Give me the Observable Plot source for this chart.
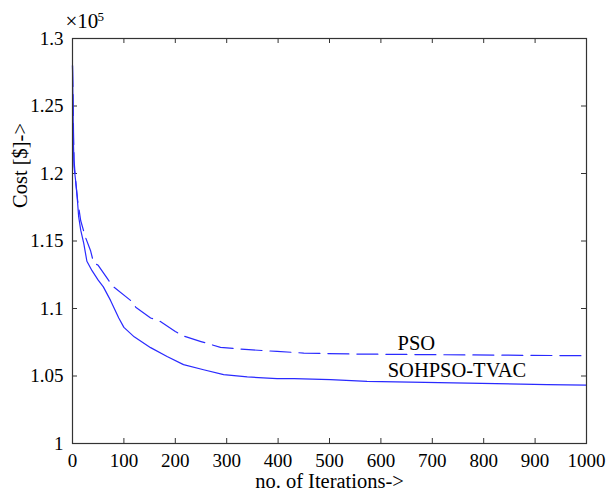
<!DOCTYPE html>
<html>
<head>
<meta charset="utf-8">
<script src="https://cdn.jsdelivr.net/npm/d3@7"></script>
<script src="https://cdn.jsdelivr.net/npm/@observablehq/plot@0.6"></script>
<style>
  html, body { margin: 0; padding: 0; background: #fff; }
  svg { display: block; }
  svg, svg text { font-family: "Liberation Serif", "Times New Roman", serif !important; }
</style>
</head>
<body>
<div id="chart"></div>
<script>
// Iteration points and cost values (x 1e5)
const sohIter = [0, 1, 2, 3, 6, 9, 12, 16, 22, 28, 38, 50, 60, 74, 90, 100, 120, 152, 184, 216, 255, 294, 340, 398, 431, 502, 573, 741, 923, 1000];
const sohCost = [1.28, 1.25, 1.22, 1.205, 1.195, 1.183, 1.168, 1.158, 1.148, 1.135, 1.128, 1.121, 1.116, 1.106, 1.093, 1.086, 1.079, 1.071, 1.0645, 1.0584, 1.0546, 1.051, 1.0493, 1.048, 1.048, 1.0473, 1.046, 1.0449, 1.0436, 1.0432];

const psoIter = [0, 1, 2, 3, 6, 10, 16, 25, 35, 41, 50, 70, 80, 113, 123, 152, 171, 200, 213, 250, 288, 343, 398, 450, 541, 700, 1000];
const psoCost = [1.28, 1.26, 1.23, 1.21, 1.195, 1.18, 1.165, 1.153, 1.143, 1.134, 1.132, 1.121, 1.116, 1.106, 1.101, 1.093, 1.0904, 1.083, 1.08, 1.0755, 1.0712, 1.0695, 1.0682, 1.067, 1.0663, 1.0658, 1.065];

const xTicks = [0, 100, 200, 300, 400, 500, 600, 700, 800, 900, 1000];
const yTicks = [1, 1.05, 1.1, 1.15, 1.2, 1.25, 1.3];

const seriesLabels = ["PSO", "SOHPSO-TVAC"];
const labelIter = [669, 748];
const labelCost = [1.0696, 1.0489];

const soh = sohIter.map((x, i) => ({x, y: sohCost[i]}));
const pso = psoIter.map((x, i) => ({x, y: psoCost[i]}));
const labels = seriesLabels.map((t, i) => ({t, x: labelIter[i], y: labelCost[i]}));

const W = 608, H = 494;
const mL = 72, mR = 22, mT = 38, mB = 51;
const innerW = W - mL - mR, innerH = H - mT - mB;
const tickLen = 5;
const blue = "#2a2aff";
const font = "Liberation Serif";

const chart = Plot.plot({
  width: W,
  height: H,
  marginLeft: mL,
  marginRight: mR,
  marginTop: mT,
  marginBottom: mB,
  style: {fontFamily: font, background: "#fff", color: "#000"},
  x: {domain: [0, 1000]},
  y: {domain: [1, 1.3]},
  marks: [
    Plot.axisX(xTicks, {tickSize: 0, tickPadding: 10, fontSize: 19, label: null, fill: "#000",
      tickFormat: d => String(d)}),
    Plot.axisY(yTicks, {tickSize: 0, tickPadding: 9, fontSize: 19, label: null, fill: "#000",
      tickFormat: d => String(+d.toFixed(2))}),
    // inward ticks on all four sides
    Plot.ruleX(xTicks, {x: d => d, insetTop: innerH - tickLen, stroke: "#333"}),
    Plot.ruleX(xTicks, {x: d => d, insetBottom: innerH - tickLen, stroke: "#333"}),
    Plot.ruleY(yTicks, {y: d => d, insetRight: innerW - tickLen, stroke: "#333"}),
    Plot.ruleY(yTicks, {y: d => d, insetLeft: innerW - tickLen, stroke: "#333"}),
    Plot.line(pso, {x: "x", y: "y", stroke: blue, strokeWidth: 1.2, strokeDasharray: "21,8"}),
    Plot.line(soh, {x: "x", y: "y", stroke: blue, strokeWidth: 1.2}),
    Plot.frame({stroke: "#333", strokeWidth: 1.2}),
    Plot.text(labels, {x: "x", y: "y", text: "t", textAnchor: "middle", lineAnchor: "bottom", fontSize: 20.5, fill: "#000"}),
    Plot.text(["no. of Iterations->"], {frameAnchor: "bottom", lineAnchor: "middle", dy: 38, fontSize: 20.5, fill: "#000"}),
    Plot.text(["Cost [$]->"], {frameAnchor: "left", rotate: -90, lineAnchor: "middle", dx: -52, dy: -33, fontSize: 20.5, fill: "#000"}),
    Plot.text(["×10"], {frameAnchor: "top-left", textAnchor: "start", lineAnchor: "bottom", dx: -7, dy: -11, fontSize: 21, fill: "#000"}),
    Plot.text(["5"], {frameAnchor: "top-left", textAnchor: "start", lineAnchor: "bottom", dx: 25, dy: -18, fontSize: 13, fill: "#000"})
  ]
});
document.getElementById("chart").appendChild(chart);
</script>
</body>
</html>
